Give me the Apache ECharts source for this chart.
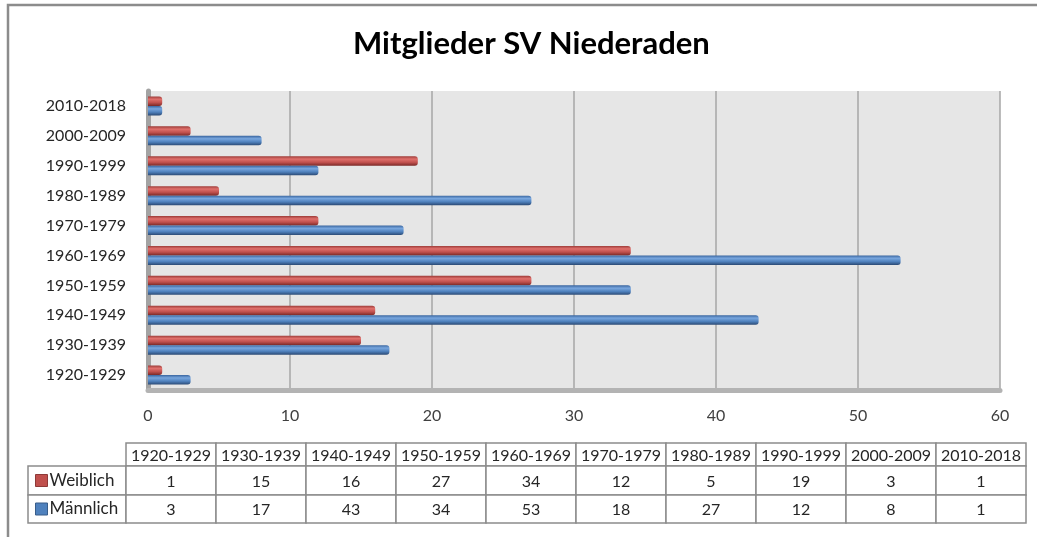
<!DOCTYPE html>
<html>
<head>
    <meta charset="utf-8">
    <title>Mitglieder SV Niederaden</title>
    <script src="https://cdn.jsdelivr.net/npm/echarts@6/dist/echarts.min.js"></script>
    <style>
        html, body { margin: 0; padding: 0; background: #fff; }
    </style>
</head>
<body>
<div id="main" style="width: 1037px;height:537px;"></div>
<script>
    // Daten
    const decades = ['1920-1929', '1930-1939', '1940-1949', '1950-1959', '1960-1969',
        '1970-1979', '1980-1989', '1990-1999', '2000-2009', '2010-2018'];
    const weiblich = [1, 15, 16, 27, 34, 12, 5, 19, 3, 1];
    const maennlich = [3, 17, 43, 34, 53, 18, 27, 12, 8, 1];
    const seriesNames = ['Weiblich', 'Männlich'];
    const xTicks = { min: 0, max: 60, interval: 10 };

    const FONT = 'Lato, "Open Sans", sans-serif';
    const RED = '#c0504d', BLUE = '#4f81bd';

    const myChart = echarts.init(document.getElementById('main'));

    function barGradient(dark, light, base, deep) {
        return new echarts.graphic.LinearGradient(0, 0, 0, 1, [
            { offset: 0, color: dark },
            { offset: 0.3, color: light },
            { offset: 0.65, color: base },
            { offset: 1, color: deep }
        ]);
    }

    // Datentabelle unter dem Diagramm
    const tbl = { left: 126, colW: 90, top: 443, rowH: [23, 29, 28], keyLeft: 28 };
    const lineCol = '#8c8c8c';
    const tableEls = [];
    let y = tbl.top;
    const rows = [decades, weiblich, maennlich];
    rows.forEach((row, r) => {
        const h = tbl.rowH[r];
        if (r > 0) {
            tableEls.push({
                type: 'rect',
                shape: { x: tbl.keyLeft, y: y, width: tbl.left - tbl.keyLeft, height: h },
                style: { fill: '#fff', stroke: lineCol, lineWidth: 1.5 }
            });
        }
        row.forEach((v, c) => {
            const x = tbl.left + c * tbl.colW;
            tableEls.push({
                type: 'rect',
                shape: { x: x, y: y, width: tbl.colW, height: h },
                style: { fill: '#fff', stroke: lineCol, lineWidth: 1.5 }
            });
            tableEls.push({
                type: 'text',
                x: x + tbl.colW / 2,
                y: y + h / 2 + 1,
                style: {
                    text: String(v), fill: '#262626', font: '16px ' + FONT,
                    align: 'center', verticalAlign: 'middle'
                }
            });
        });
        y += h;
    });

    option = {
        backgroundColor: '#fff',
        animation: false,
        title: {
            text: 'Mitglieder SV Niederaden',
            left: 348,
            top: 23,
            textStyle: { fontFamily: FONT, fontSize: 31, fontWeight: 'bold', color: '#000' }
        },
        legend: {
            orient: 'vertical',
            left: 35,
            top: 472,
            padding: 0,
            itemWidth: 12,
            itemHeight: 12,
            itemGap: 11.5,
            icon: 'rect',
            textStyle: { fontFamily: FONT, fontSize: 17, color: '#262626', padding: [0, 0, 0, -3] },
            data: [
                { name: seriesNames[0], itemStyle: { color: RED, borderColor: '#8e3a38', borderWidth: 1 } },
                { name: seriesNames[1], itemStyle: { color: BLUE, borderColor: '#385d8a', borderWidth: 1 } }
            ],
            z: 10
        },
        grid: {
            left: 148,
            right: 37,
            top: 91,
            bottom: 147,
            show: true,
            backgroundColor: '#e6e6e6',
            borderWidth: 0
        },
        xAxis: {
            type: 'value',
            min: xTicks.min,
            max: xTicks.max,
            interval: xTicks.interval,
            axisLine: { show: true, lineStyle: { color: '#b3b3b3', width: 5 } },
            axisTick: { show: false },
            axisLabel: { margin: 18, fontFamily: FONT, fontSize: 16, color: '#404040' },
            splitLine: { lineStyle: { color: '#a6a6a6', width: 1.5 } }
        },
        yAxis: {
            type: 'category',
            data: decades,
            offset: 2,
            axisLine: { show: true, lineStyle: { color: '#a3a3a3', width: 5 } },
            axisTick: { show: false },
            axisLabel: { margin: 20, fontFamily: FONT, fontSize: 16, color: '#262626', padding: [8, 0, 0, 0] },
            splitLine: { show: false }
        },
        graphic: [
            {
                type: 'rect',
                z: -10,
                silent: true,
                shape: { x: 8, y: 5, width: 1040, height: 545 },
                style: { fill: 'none', stroke: '#8c8c8c', lineWidth: 2.5 }
            },
            { type: 'group', children: tableEls }
        ],
        series: [
            {
                name: seriesNames[0],
                type: 'bar',
                data: weiblich,
                barWidth: 9.5,
                barGap: '0%',
                itemStyle: {
                    color: barGradient('#9e3c39', '#e0706c', RED, '#7a2927'),
                    borderRadius: [0, 3, 3, 0]
                }
            },
            {
                name: seriesNames[1],
                type: 'bar',
                data: maennlich,
                barWidth: 9.5,
                barGap: '0%',
                itemStyle: {
                    color: barGradient('#3a66a0', '#78a6de', BLUE, '#2b4a75'),
                    borderRadius: [0, 3, 3, 0]
                }
            }
        ]
    };
    myChart.setOption(option);
</script>
</body>
</html>
